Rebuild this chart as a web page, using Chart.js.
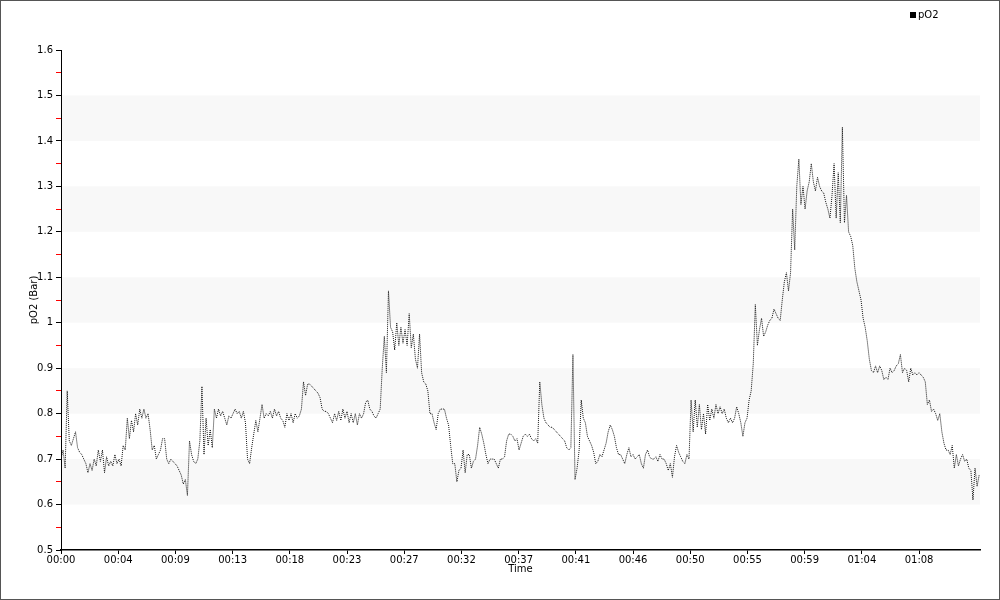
<!DOCTYPE html>
<html><head><meta charset="utf-8">
<script src="https://cdn.jsdelivr.net/npm/chart.js@4.4.1/dist/chart.umd.min.js"></script>
<style>html,body{margin:0;padding:0;background:#fff}#wrap{width:1000px;height:600px;position:relative}</style>
</head><body><div id="wrap"><canvas id="c" width="1000" height="600"></canvas></div>
<script>
const seriesLabel = 'pO2';
const yAxisTitle = 'pO2 (Bar)';
const xAxisTitle = 'Time';
const tickSeconds = [0,276,552,828,1104,1380,1656,1932,2208,2484,2760,3036,3312,3588,3864,4140];
const tickLabels = ['00:00','00:04','00:09','00:13','00:18','00:23','00:27','00:32','00:37','00:41','00:46','00:50','00:55','00:59','01:04','01:08'];
const yTickValues = [0.5,0.55,0.6,0.65,0.7,0.75,0.8,0.85,0.9,0.95,1.0,1.05,1.1,1.15,1.2,1.25,1.3,1.35,1.4,1.45,1.5,1.55,1.6];
const yTickLabels = ['0.5','','0.6','','0.7','','0.8','','0.9','','1','','1.1','','1.2','','1.3','','1.4','','1.5','','1.6'];
const bandStarts = [0.6,0.8,1.0,1.2,1.4];
const times = [
0,10,20,30,40,50,60,70,80,90,
100,110,120,130,140,150,160,170,180,190,
200,210,220,230,240,250,260,270,280,290,
300,310,320,330,340,350,360,370,380,390,
400,410,420,430,440,450,460,470,480,490,
500,510,520,530,540,550,560,570,580,590,
600,610,620,630,640,650,660,670,680,690,
700,710,720,730,740,750,760,770,780,790,
800,810,820,830,840,850,860,870,880,890,
900,910,920,930,940,950,960,970,980,990,
1000,1010,1020,1030,1040,1050,1060,1070,1080,1090,
1100,1110,1120,1130,1140,1150,1160,1170,1180,1190,
1200,1210,1220,1230,1240,1250,1260,1270,1280,1290,
1300,1310,1320,1330,1340,1350,1360,1370,1380,1390,
1400,1410,1420,1430,1440,1450,1460,1470,1480,1490,
1500,1510,1520,1530,1540,1550,1560,1570,1580,1590,
1600,1610,1620,1630,1640,1650,1660,1670,1680,1690,
1700,1710,1720,1730,1740,1750,1760,1770,1780,1790,
1800,1810,1820,1830,1840,1850,1860,1870,1880,1890,
1900,1910,1920,1930,1940,1950,1960,1970,1980,1990,
2000,2010,2020,2030,2040,2050,2060,2070,2080,2090,
2100,2110,2120,2130,2140,2150,2160,2170,2180,2190,
2200,2210,2220,2230,2240,2250,2260,2270,2280,2290,
2300,2310,2320,2330,2340,2350,2360,2370,2380,2390,
2400,2410,2420,2430,2440,2450,2460,2470,2480,2490,
2500,2510,2520,2530,2540,2550,2560,2570,2580,2590,
2600,2610,2620,2630,2640,2650,2660,2670,2680,2690,
2700,2710,2720,2730,2740,2750,2760,2770,2780,2790,
2800,2810,2820,2830,2840,2850,2860,2870,2880,2890,
2900,2910,2920,2930,2940,2950,2960,2970,2980,2990,
3000,3010,3020,3030,3040,3050,3060,3070,3080,3090,
3100,3110,3120,3130,3140,3150,3160,3170,3180,3190,
3200,3210,3220,3230,3240,3250,3260,3270,3280,3290,
3300,3310,3320,3330,3340,3350,3360,3370,3380,3390,
3400,3410,3420,3430,3440,3450,3460,3470,3480,3490,
3500,3510,3520,3530,3540,3550,3560,3570,3580,3590,
3600,3610,3620,3630,3640,3650,3660,3670,3680,3690,
3700,3710,3720,3730,3740,3750,3760,3770,3780,3790,
3800,3810,3820,3830,3840,3850,3860,3870,3880,3890,
3900,3910,3920,3930,3940,3950,3960,3970,3980,3990,
4000,4010,4020,4030,4040,4050,4060,4070,4080,4090,
4100,4110,4120,4130,4140,4150,4160,4170,4180,4190,
4200,4210,4220,4230,4240,4250,4260,4270,4280,4290,
4300,4310,4320,4330,4340,4350,4360,4370,4380,4390,
4400,4410,4420,4430];
const values = [
0.70,0.72,0.68,0.85,0.74,0.73,0.745,0.76,0.725,0.715,
0.71,0.70,0.69,0.67,0.69,0.675,0.70,0.685,0.72,0.695,
0.72,0.67,0.705,0.685,0.695,0.685,0.71,0.69,0.70,0.685,
0.73,0.72,0.79,0.745,0.785,0.76,0.80,0.775,0.81,0.79,
0.81,0.79,0.80,0.765,0.72,0.73,0.70,0.71,0.72,0.745,
0.745,0.70,0.69,0.70,0.695,0.69,0.685,0.675,0.665,0.645,
0.655,0.62,0.74,0.71,0.695,0.69,0.70,0.74,0.86,0.71,
0.79,0.73,0.765,0.725,0.81,0.79,0.81,0.795,0.805,0.79,
0.775,0.795,0.79,0.80,0.81,0.80,0.805,0.79,0.805,0.78,
0.70,0.69,0.725,0.755,0.785,0.76,0.79,0.82,0.79,0.80,
0.795,0.805,0.79,0.81,0.795,0.805,0.79,0.785,0.77,0.80,
0.785,0.80,0.78,0.80,0.79,0.795,0.81,0.87,0.84,0.865,
0.865,0.86,0.855,0.85,0.845,0.835,0.81,0.805,0.805,0.80,
0.79,0.78,0.80,0.785,0.805,0.785,0.81,0.79,0.805,0.78,
0.80,0.78,0.80,0.775,0.80,0.79,0.80,0.825,0.83,0.81,
0.805,0.795,0.79,0.80,0.81,0.90,0.97,0.89,1.07,0.99,
0.98,0.94,1.00,0.95,0.99,0.955,0.985,0.95,1.02,0.945,
0.975,0.92,0.90,0.975,0.89,0.87,0.865,0.85,0.80,0.80,
0.78,0.765,0.80,0.81,0.81,0.81,0.79,0.775,0.73,0.69,
0.69,0.65,0.675,0.68,0.72,0.67,0.71,0.71,0.68,0.695,
0.70,0.73,0.77,0.755,0.735,0.71,0.69,0.70,0.70,0.70,
0.69,0.68,0.70,0.70,0.705,0.74,0.755,0.755,0.75,0.74,
0.745,0.72,0.735,0.75,0.755,0.75,0.755,0.745,0.74,0.745,
0.735,0.87,0.82,0.79,0.78,0.775,0.77,0.77,0.765,0.76,
0.755,0.75,0.745,0.74,0.725,0.72,0.725,0.93,0.655,0.68,
0.72,0.83,0.79,0.78,0.75,0.74,0.73,0.715,0.69,0.695,
0.71,0.705,0.72,0.735,0.76,0.775,0.765,0.75,0.725,0.71,
0.71,0.70,0.69,0.71,0.725,0.705,0.71,0.70,0.705,0.71,
0.69,0.68,0.71,0.72,0.705,0.70,0.70,0.705,0.695,0.71,
0.70,0.70,0.69,0.675,0.69,0.66,0.705,0.73,0.715,0.705,
0.695,0.69,0.71,0.70,0.83,0.76,0.83,0.77,0.82,0.765,
0.80,0.755,0.82,0.785,0.81,0.79,0.82,0.80,0.815,0.80,
0.81,0.79,0.78,0.79,0.78,0.79,0.815,0.80,0.78,0.75,
0.78,0.79,0.83,0.85,0.91,1.04,0.95,0.985,1.01,0.97,
0.98,0.995,1.005,1.01,1.03,1.02,1.01,1.005,1.05,1.09,
1.11,1.07,1.11,1.25,1.16,1.30,1.36,1.26,1.30,1.25,
1.29,1.31,1.35,1.31,1.29,1.32,1.30,1.29,1.285,1.265,
1.25,1.23,1.28,1.35,1.23,1.33,1.22,1.43,1.22,1.28,
1.20,1.19,1.17,1.12,1.09,1.07,1.05,1.01,0.99,0.96,
0.92,0.895,0.89,0.905,0.89,0.905,0.895,0.875,0.88,0.875,
0.90,0.89,0.895,0.905,0.91,0.93,0.89,0.90,0.895,0.87,
0.90,0.885,0.89,0.885,0.89,0.885,0.88,0.87,0.82,0.83,
0.805,0.81,0.80,0.785,0.80,0.76,0.735,0.72,0.72,0.71,
0.73,0.68,0.71,0.685,0.70,0.71,0.695,0.70,0.68,0.675,
0.61,0.68,0.64,0.665];

Chart.defaults.font.family = "'DejaVu Sans', sans-serif";
Chart.defaults.font.size = 10;
Chart.defaults.color = '#000';

const bandsPlugin = {
  id: 'bands',
  beforeDatasetsDraw(chart) {
    const {ctx, chartArea: a, scales: {y}} = chart;
    ctx.save();
    ctx.fillStyle = '#f8f8f8';
    bandStarts.forEach(b => {
      const top = y.getPixelForValue(b + 0.1);
      const bot = y.getPixelForValue(b);
      ctx.fillRect(a.left + 1, top, a.right - a.left - 1, bot - top);
    });
    ctx.restore();
  }
};
const legendPlugin = {
  id: 'miniLegend',
  afterDraw(chart) {
    const ctx = chart.ctx;
    const ds = chart.data.datasets[0];
    ctx.save();
    ctx.fillStyle = '#000';
    ctx.fillRect(910, 12, 6, 6);
    ctx.font = "10px 'DejaVu Sans'";
    ctx.textBaseline = 'middle';
    ctx.textAlign = 'left';
    ctx.fillText(ds.label, 918, 15.5);
    ctx.restore();
  }
};
const framePlugin = {
  id: 'frame',
  afterDraw(chart) {
    const ctx = chart.ctx;
    ctx.save();
    ctx.strokeStyle = '#555';
    ctx.lineWidth = 1;
    ctx.strokeRect(0.5, 0.5, 999, 599);
    ctx.restore();
  }
};
const isMinor = v => Math.round(v * 100) % 10 === 5;

new Chart(document.getElementById('c'), {
  type: 'line',
  data: {
    datasets: [{
      label: seriesLabel,
      data: times.map((t, i) => ({x: t, y: values[i]})),
      borderColor: '#141414',
      borderWidth: 1,
      borderDash: [1, 1],
      pointRadius: 0,
      tension: 0,
      fill: false
    }]
  },
  options: {
    responsive: false,
    animation: false,
    layout: {padding: {top: 50, right: 20, bottom: 0, left: 0}},
    plugins: {legend: {display: false}, tooltip: {enabled: false}},
    scales: {
      x: {
        type: 'linear', min: 0, max: 4434,
        afterBuildTicks: s => { s.ticks = tickSeconds.map(v => ({value: v})); },
        afterFit: s => { s.height = 50; },
        ticks: {autoSkip: false, maxRotation: 0, padding: 0, callback: (v, i) => tickLabels[i]},
        grid: {drawOnChartArea: false, tickLength: 4, tickColor: '#000'},
        border: {color: '#000', width: 1.5},
        title: {display: true, text: xAxisTitle, padding: {top: 0, bottom: 25}}
      },
      y: {
        min: 0.5, max: 1.6,
        afterBuildTicks: s => { s.ticks = yTickValues.map(v => ({value: v})); },
        afterFit: s => { s.width = 61; },
        ticks: {autoSkip: false, padding: 3, callback: (v, i) => yTickLabels[i]},
        grid: {
          drawOnChartArea: false, tickLength: 5,
          tickColor: c => (c.tick && isMinor(c.tick.value) ? '#ff0000' : '#000')
        },
        border: {color: '#000', width: 1},
        title: {display: true, text: yAxisTitle, padding: {top: 28, bottom: 0}}
      }
    }
  },
  plugins: [bandsPlugin, legendPlugin, framePlugin]
});
</script>
</body></html>
